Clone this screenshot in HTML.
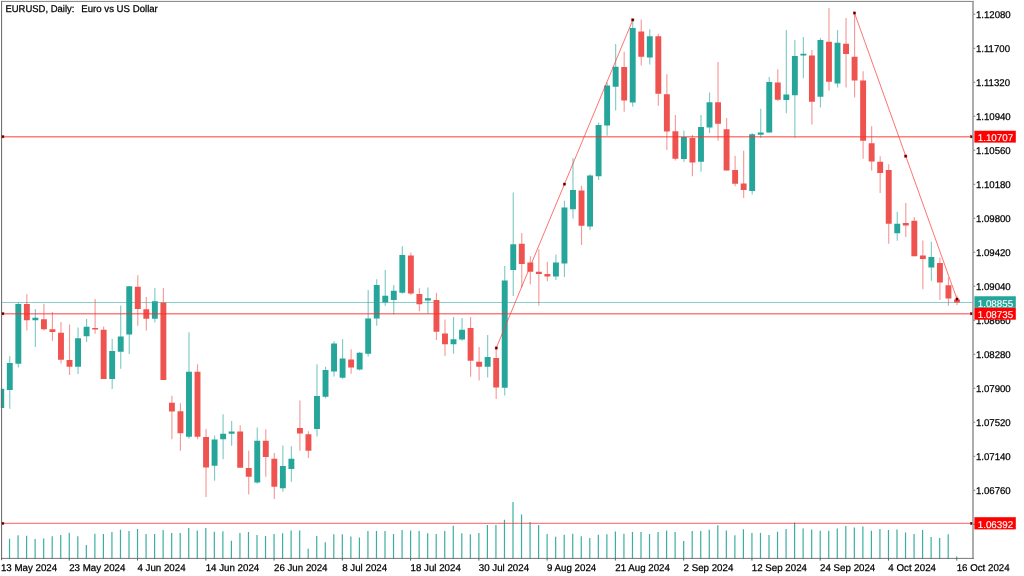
<!DOCTYPE html>
<html lang="en"><head><meta charset="utf-8"><title>EURUSD, Daily</title>
<style>html,body{margin:0;padding:0;background:#fff;width:1024px;height:576px;overflow:hidden}svg text{white-space:pre;text-rendering:geometricPrecision}</style></head>
<body>
<svg width="1024" height="576" viewBox="0 0 1024 576" style="display:block" font-family="'Liberation Sans', sans-serif">
<rect width="1024" height="576" fill="#fff"/>
<line x1="9.53" x2="9.53" y1="538.75" y2="558.4" stroke="#3aafa4" stroke-width="1.2"/>
<line x1="18.07" x2="18.07" y1="535.25" y2="558.4" stroke="#3aafa4" stroke-width="1.2"/>
<line x1="26.60" x2="26.60" y1="535.75" y2="558.4" stroke="#3aafa4" stroke-width="1.2"/>
<line x1="35.13" x2="35.13" y1="539.00" y2="558.4" stroke="#3aafa4" stroke-width="1.2"/>
<line x1="43.67" x2="43.67" y1="538.50" y2="558.4" stroke="#3aafa4" stroke-width="1.2"/>
<line x1="52.20" x2="52.20" y1="536.25" y2="558.4" stroke="#3aafa4" stroke-width="1.2"/>
<line x1="60.73" x2="60.73" y1="535.00" y2="558.4" stroke="#3aafa4" stroke-width="1.2"/>
<line x1="69.27" x2="69.27" y1="532.75" y2="558.4" stroke="#3aafa4" stroke-width="1.2"/>
<line x1="77.80" x2="77.80" y1="536.25" y2="558.4" stroke="#3aafa4" stroke-width="1.2"/>
<line x1="86.33" x2="86.33" y1="545.00" y2="558.4" stroke="#3aafa4" stroke-width="1.2"/>
<line x1="94.87" x2="94.87" y1="533.75" y2="558.4" stroke="#3aafa4" stroke-width="1.2"/>
<line x1="103.40" x2="103.40" y1="534.00" y2="558.4" stroke="#3aafa4" stroke-width="1.2"/>
<line x1="111.93" x2="111.93" y1="532.00" y2="558.4" stroke="#3aafa4" stroke-width="1.2"/>
<line x1="120.47" x2="120.47" y1="529.75" y2="558.4" stroke="#3aafa4" stroke-width="1.2"/>
<line x1="129.00" x2="129.00" y1="531.00" y2="558.4" stroke="#3aafa4" stroke-width="1.2"/>
<line x1="137.53" x2="137.53" y1="529.00" y2="558.4" stroke="#3aafa4" stroke-width="1.2"/>
<line x1="146.07" x2="146.07" y1="534.00" y2="558.4" stroke="#3aafa4" stroke-width="1.2"/>
<line x1="154.60" x2="154.60" y1="534.00" y2="558.4" stroke="#3aafa4" stroke-width="1.2"/>
<line x1="163.13" x2="163.13" y1="530.00" y2="558.4" stroke="#3aafa4" stroke-width="1.2"/>
<line x1="171.67" x2="171.67" y1="533.00" y2="558.4" stroke="#3aafa4" stroke-width="1.2"/>
<line x1="180.20" x2="180.20" y1="533.00" y2="558.4" stroke="#3aafa4" stroke-width="1.2"/>
<line x1="188.73" x2="188.73" y1="528.00" y2="558.4" stroke="#3aafa4" stroke-width="1.2"/>
<line x1="197.27" x2="197.27" y1="530.50" y2="558.4" stroke="#3aafa4" stroke-width="1.2"/>
<line x1="205.80" x2="205.80" y1="528.00" y2="558.4" stroke="#3aafa4" stroke-width="1.2"/>
<line x1="214.33" x2="214.33" y1="531.75" y2="558.4" stroke="#3aafa4" stroke-width="1.2"/>
<line x1="222.87" x2="222.87" y1="531.25" y2="558.4" stroke="#3aafa4" stroke-width="1.2"/>
<line x1="231.40" x2="231.40" y1="540.75" y2="558.4" stroke="#3aafa4" stroke-width="1.2"/>
<line x1="239.93" x2="239.93" y1="533.00" y2="558.4" stroke="#3aafa4" stroke-width="1.2"/>
<line x1="248.47" x2="248.47" y1="532.00" y2="558.4" stroke="#3aafa4" stroke-width="1.2"/>
<line x1="257.00" x2="257.00" y1="535.00" y2="558.4" stroke="#3aafa4" stroke-width="1.2"/>
<line x1="265.53" x2="265.53" y1="536.00" y2="558.4" stroke="#3aafa4" stroke-width="1.2"/>
<line x1="274.07" x2="274.07" y1="534.00" y2="558.4" stroke="#3aafa4" stroke-width="1.2"/>
<line x1="282.60" x2="282.60" y1="533.25" y2="558.4" stroke="#3aafa4" stroke-width="1.2"/>
<line x1="291.13" x2="291.13" y1="530.50" y2="558.4" stroke="#3aafa4" stroke-width="1.2"/>
<line x1="299.67" x2="299.67" y1="530.50" y2="558.4" stroke="#3aafa4" stroke-width="1.2"/>
<line x1="308.20" x2="308.20" y1="548.75" y2="558.4" stroke="#3aafa4" stroke-width="1.2"/>
<line x1="316.73" x2="316.73" y1="536.00" y2="558.4" stroke="#3aafa4" stroke-width="1.2"/>
<line x1="325.27" x2="325.27" y1="542.25" y2="558.4" stroke="#3aafa4" stroke-width="1.2"/>
<line x1="333.80" x2="333.80" y1="534.25" y2="558.4" stroke="#3aafa4" stroke-width="1.2"/>
<line x1="342.33" x2="342.33" y1="534.25" y2="558.4" stroke="#3aafa4" stroke-width="1.2"/>
<line x1="350.87" x2="350.87" y1="536.50" y2="558.4" stroke="#3aafa4" stroke-width="1.2"/>
<line x1="359.40" x2="359.40" y1="537.50" y2="558.4" stroke="#3aafa4" stroke-width="1.2"/>
<line x1="367.93" x2="367.93" y1="531.00" y2="558.4" stroke="#3aafa4" stroke-width="1.2"/>
<line x1="376.47" x2="376.47" y1="531.00" y2="558.4" stroke="#3aafa4" stroke-width="1.2"/>
<line x1="385.00" x2="385.00" y1="531.00" y2="558.4" stroke="#3aafa4" stroke-width="1.2"/>
<line x1="393.53" x2="393.53" y1="534.00" y2="558.4" stroke="#3aafa4" stroke-width="1.2"/>
<line x1="402.07" x2="402.07" y1="530.00" y2="558.4" stroke="#3aafa4" stroke-width="1.2"/>
<line x1="410.60" x2="410.60" y1="530.50" y2="558.4" stroke="#3aafa4" stroke-width="1.2"/>
<line x1="419.13" x2="419.13" y1="531.00" y2="558.4" stroke="#3aafa4" stroke-width="1.2"/>
<line x1="427.67" x2="427.67" y1="533.25" y2="558.4" stroke="#3aafa4" stroke-width="1.2"/>
<line x1="436.20" x2="436.20" y1="534.00" y2="558.4" stroke="#3aafa4" stroke-width="1.2"/>
<line x1="444.73" x2="444.73" y1="531.00" y2="558.4" stroke="#3aafa4" stroke-width="1.2"/>
<line x1="453.27" x2="453.27" y1="525.75" y2="558.4" stroke="#3aafa4" stroke-width="1.2"/>
<line x1="461.80" x2="461.80" y1="533.25" y2="558.4" stroke="#3aafa4" stroke-width="1.2"/>
<line x1="470.33" x2="470.33" y1="534.25" y2="558.4" stroke="#3aafa4" stroke-width="1.2"/>
<line x1="478.87" x2="478.87" y1="533.00" y2="558.4" stroke="#3aafa4" stroke-width="1.2"/>
<line x1="487.40" x2="487.40" y1="525.00" y2="558.4" stroke="#3aafa4" stroke-width="1.2"/>
<line x1="495.93" x2="495.93" y1="525.00" y2="558.4" stroke="#3aafa4" stroke-width="1.2"/>
<line x1="504.47" x2="504.47" y1="519.75" y2="558.4" stroke="#3aafa4" stroke-width="1.2"/>
<line x1="513.00" x2="513.00" y1="502.00" y2="558.4" stroke="#3aafa4" stroke-width="1.2"/>
<line x1="521.53" x2="521.53" y1="514.50" y2="558.4" stroke="#3aafa4" stroke-width="1.2"/>
<line x1="530.07" x2="530.07" y1="522.00" y2="558.4" stroke="#3aafa4" stroke-width="1.2"/>
<line x1="538.60" x2="538.60" y1="525.00" y2="558.4" stroke="#3aafa4" stroke-width="1.2"/>
<line x1="547.13" x2="547.13" y1="534.00" y2="558.4" stroke="#3aafa4" stroke-width="1.2"/>
<line x1="555.67" x2="555.67" y1="536.75" y2="558.4" stroke="#3aafa4" stroke-width="1.2"/>
<line x1="564.20" x2="564.20" y1="534.75" y2="558.4" stroke="#3aafa4" stroke-width="1.2"/>
<line x1="572.73" x2="572.73" y1="533.75" y2="558.4" stroke="#3aafa4" stroke-width="1.2"/>
<line x1="581.27" x2="581.27" y1="536.25" y2="558.4" stroke="#3aafa4" stroke-width="1.2"/>
<line x1="589.80" x2="589.80" y1="538.00" y2="558.4" stroke="#3aafa4" stroke-width="1.2"/>
<line x1="598.33" x2="598.33" y1="534.75" y2="558.4" stroke="#3aafa4" stroke-width="1.2"/>
<line x1="606.87" x2="606.87" y1="534.25" y2="558.4" stroke="#3aafa4" stroke-width="1.2"/>
<line x1="615.40" x2="615.40" y1="531.50" y2="558.4" stroke="#3aafa4" stroke-width="1.2"/>
<line x1="623.93" x2="623.93" y1="533.75" y2="558.4" stroke="#3aafa4" stroke-width="1.2"/>
<line x1="632.47" x2="632.47" y1="532.00" y2="558.4" stroke="#3aafa4" stroke-width="1.2"/>
<line x1="641.00" x2="641.00" y1="532.00" y2="558.4" stroke="#3aafa4" stroke-width="1.2"/>
<line x1="649.53" x2="649.53" y1="534.00" y2="558.4" stroke="#3aafa4" stroke-width="1.2"/>
<line x1="658.07" x2="658.07" y1="532.00" y2="558.4" stroke="#3aafa4" stroke-width="1.2"/>
<line x1="666.60" x2="666.60" y1="530.50" y2="558.4" stroke="#3aafa4" stroke-width="1.2"/>
<line x1="675.13" x2="675.13" y1="532.00" y2="558.4" stroke="#3aafa4" stroke-width="1.2"/>
<line x1="683.67" x2="683.67" y1="541.00" y2="558.4" stroke="#3aafa4" stroke-width="1.2"/>
<line x1="692.20" x2="692.20" y1="531.00" y2="558.4" stroke="#3aafa4" stroke-width="1.2"/>
<line x1="700.73" x2="700.73" y1="531.00" y2="558.4" stroke="#3aafa4" stroke-width="1.2"/>
<line x1="709.27" x2="709.27" y1="529.75" y2="558.4" stroke="#3aafa4" stroke-width="1.2"/>
<line x1="717.80" x2="717.80" y1="525.25" y2="558.4" stroke="#3aafa4" stroke-width="1.2"/>
<line x1="726.33" x2="726.33" y1="530.50" y2="558.4" stroke="#3aafa4" stroke-width="1.2"/>
<line x1="734.87" x2="734.87" y1="535.25" y2="558.4" stroke="#3aafa4" stroke-width="1.2"/>
<line x1="743.40" x2="743.40" y1="529.25" y2="558.4" stroke="#3aafa4" stroke-width="1.2"/>
<line x1="751.93" x2="751.93" y1="533.00" y2="558.4" stroke="#3aafa4" stroke-width="1.2"/>
<line x1="760.47" x2="760.47" y1="532.90" y2="558.4" stroke="#3aafa4" stroke-width="1.2"/>
<line x1="769.00" x2="769.00" y1="535.00" y2="558.4" stroke="#3aafa4" stroke-width="1.2"/>
<line x1="777.53" x2="777.53" y1="531.75" y2="558.4" stroke="#3aafa4" stroke-width="1.2"/>
<line x1="786.07" x2="786.07" y1="529.00" y2="558.4" stroke="#3aafa4" stroke-width="1.2"/>
<line x1="794.60" x2="794.60" y1="522.50" y2="558.4" stroke="#3aafa4" stroke-width="1.2"/>
<line x1="803.13" x2="803.13" y1="528.50" y2="558.4" stroke="#3aafa4" stroke-width="1.2"/>
<line x1="811.67" x2="811.67" y1="529.50" y2="558.4" stroke="#3aafa4" stroke-width="1.2"/>
<line x1="820.20" x2="820.20" y1="530.75" y2="558.4" stroke="#3aafa4" stroke-width="1.2"/>
<line x1="828.73" x2="828.73" y1="530.75" y2="558.4" stroke="#3aafa4" stroke-width="1.2"/>
<line x1="837.27" x2="837.27" y1="528.50" y2="558.4" stroke="#3aafa4" stroke-width="1.2"/>
<line x1="845.80" x2="845.80" y1="526.00" y2="558.4" stroke="#3aafa4" stroke-width="1.2"/>
<line x1="854.33" x2="854.33" y1="527.50" y2="558.4" stroke="#3aafa4" stroke-width="1.2"/>
<line x1="862.87" x2="862.87" y1="526.50" y2="558.4" stroke="#3aafa4" stroke-width="1.2"/>
<line x1="871.40" x2="871.40" y1="530.75" y2="558.4" stroke="#3aafa4" stroke-width="1.2"/>
<line x1="879.93" x2="879.93" y1="529.00" y2="558.4" stroke="#3aafa4" stroke-width="1.2"/>
<line x1="888.47" x2="888.47" y1="530.00" y2="558.4" stroke="#3aafa4" stroke-width="1.2"/>
<line x1="897.00" x2="897.00" y1="529.50" y2="558.4" stroke="#3aafa4" stroke-width="1.2"/>
<line x1="905.53" x2="905.53" y1="532.50" y2="558.4" stroke="#3aafa4" stroke-width="1.2"/>
<line x1="914.07" x2="914.07" y1="534.00" y2="558.4" stroke="#3aafa4" stroke-width="1.2"/>
<line x1="922.60" x2="922.60" y1="530.00" y2="558.4" stroke="#3aafa4" stroke-width="1.2"/>
<line x1="931.13" x2="931.13" y1="537.00" y2="558.4" stroke="#3aafa4" stroke-width="1.2"/>
<line x1="939.67" x2="939.67" y1="538.00" y2="558.4" stroke="#3aafa4" stroke-width="1.2"/>
<line x1="948.20" x2="948.20" y1="534.25" y2="558.4" stroke="#3aafa4" stroke-width="1.2"/>
<line x1="956.73" x2="956.73" y1="556.50" y2="558.4" stroke="#3aafa4" stroke-width="1.2"/>
<line x1="2" x2="972.5" y1="302.50" y2="302.50" stroke="#8acec7" stroke-width="1.0" opacity="1"/>
<line x1="1.25" x2="1.25" y1="388.75" y2="408.00" stroke="#26a69a" stroke-width="1.15" opacity="0.58"/>
<rect x="1.60" y="388.75" width="2.60" height="19.25" fill="#26a69a"/>
<line x1="9.78" x2="9.78" y1="356.25" y2="408.75" stroke="#26a69a" stroke-width="1.15" opacity="0.58"/>
<rect x="6.83" y="363.00" width="5.90" height="27.00" fill="#26a69a"/>
<line x1="18.32" x2="18.32" y1="302.50" y2="367.50" stroke="#26a69a" stroke-width="1.15" opacity="0.58"/>
<rect x="15.37" y="304.00" width="5.90" height="59.75" fill="#26a69a"/>
<line x1="26.85" x2="26.85" y1="294.25" y2="330.50" stroke="#ef5350" stroke-width="1.15" opacity="0.58"/>
<rect x="23.90" y="304.00" width="5.90" height="16.25" fill="#ef5350"/>
<line x1="35.38" x2="35.38" y1="309.00" y2="347.00" stroke="#26a69a" stroke-width="1.15" opacity="0.58"/>
<rect x="32.43" y="317.75" width="5.90" height="2.50" fill="#26a69a"/>
<line x1="43.92" x2="43.92" y1="303.75" y2="330.50" stroke="#ef5350" stroke-width="1.15" opacity="0.58"/>
<rect x="40.97" y="319.25" width="5.90" height="10.00" fill="#ef5350"/>
<line x1="52.45" x2="52.45" y1="312.00" y2="340.75" stroke="#ef5350" stroke-width="1.15" opacity="0.58"/>
<rect x="49.50" y="329.25" width="5.90" height="2.75" fill="#ef5350"/>
<line x1="60.98" x2="60.98" y1="322.00" y2="363.50" stroke="#ef5350" stroke-width="1.15" opacity="0.58"/>
<rect x="58.03" y="332.75" width="5.90" height="27.00" fill="#ef5350"/>
<line x1="69.52" x2="69.52" y1="324.50" y2="375.00" stroke="#ef5350" stroke-width="1.15" opacity="0.58"/>
<rect x="66.57" y="360.00" width="5.90" height="6.75" fill="#ef5350"/>
<line x1="78.05" x2="78.05" y1="327.50" y2="374.00" stroke="#26a69a" stroke-width="1.15" opacity="0.58"/>
<rect x="75.10" y="338.25" width="5.90" height="28.50" fill="#26a69a"/>
<line x1="86.58" x2="86.58" y1="319.00" y2="342.00" stroke="#26a69a" stroke-width="1.15" opacity="0.58"/>
<rect x="83.63" y="326.75" width="5.90" height="9.50" fill="#26a69a"/>
<line x1="95.12" x2="95.12" y1="299.00" y2="333.75" stroke="#ef5350" stroke-width="1.15" opacity="0.58"/>
<rect x="92.17" y="328.00" width="5.90" height="1.50" fill="#ef5350"/>
<line x1="103.65" x2="103.65" y1="326.50" y2="379.00" stroke="#ef5350" stroke-width="1.15" opacity="0.58"/>
<rect x="100.70" y="329.75" width="5.90" height="49.25" fill="#ef5350"/>
<line x1="112.18" x2="112.18" y1="339.00" y2="389.00" stroke="#26a69a" stroke-width="1.15" opacity="0.58"/>
<rect x="109.23" y="351.00" width="5.90" height="28.00" fill="#26a69a"/>
<line x1="120.72" x2="120.72" y1="305.50" y2="368.75" stroke="#26a69a" stroke-width="1.15" opacity="0.58"/>
<rect x="117.77" y="336.50" width="5.90" height="15.25" fill="#26a69a"/>
<line x1="129.25" x2="129.25" y1="286.25" y2="354.00" stroke="#26a69a" stroke-width="1.15" opacity="0.58"/>
<rect x="126.30" y="286.25" width="5.90" height="48.25" fill="#26a69a"/>
<line x1="137.78" x2="137.78" y1="275.25" y2="325.75" stroke="#ef5350" stroke-width="1.15" opacity="0.58"/>
<rect x="134.83" y="286.75" width="5.90" height="22.25" fill="#ef5350"/>
<line x1="146.32" x2="146.32" y1="297.00" y2="330.50" stroke="#ef5350" stroke-width="1.15" opacity="0.58"/>
<rect x="143.37" y="309.25" width="5.90" height="9.50" fill="#ef5350"/>
<line x1="154.85" x2="154.85" y1="288.00" y2="322.50" stroke="#26a69a" stroke-width="1.15" opacity="0.58"/>
<rect x="151.90" y="301.25" width="5.90" height="17.50" fill="#26a69a"/>
<line x1="163.38" x2="163.38" y1="288.00" y2="380.00" stroke="#ef5350" stroke-width="1.15" opacity="0.58"/>
<rect x="160.43" y="302.50" width="5.90" height="77.50" fill="#ef5350"/>
<line x1="171.92" x2="171.92" y1="395.75" y2="439.25" stroke="#ef5350" stroke-width="1.15" opacity="0.58"/>
<rect x="168.97" y="402.75" width="5.90" height="8.75" fill="#ef5350"/>
<line x1="180.45" x2="180.45" y1="403.25" y2="450.75" stroke="#ef5350" stroke-width="1.15" opacity="0.58"/>
<rect x="177.50" y="411.25" width="5.90" height="22.00" fill="#ef5350"/>
<line x1="188.98" x2="188.98" y1="332.25" y2="438.75" stroke="#26a69a" stroke-width="1.15" opacity="0.58"/>
<rect x="186.03" y="371.75" width="5.90" height="65.00" fill="#26a69a"/>
<line x1="197.52" x2="197.52" y1="364.25" y2="439.25" stroke="#ef5350" stroke-width="1.15" opacity="0.58"/>
<rect x="194.57" y="371.75" width="5.90" height="65.00" fill="#ef5350"/>
<line x1="206.05" x2="206.05" y1="429.00" y2="497.00" stroke="#ef5350" stroke-width="1.15" opacity="0.58"/>
<rect x="203.10" y="437.00" width="5.90" height="30.50" fill="#ef5350"/>
<line x1="214.58" x2="214.58" y1="435.50" y2="480.75" stroke="#26a69a" stroke-width="1.15" opacity="0.58"/>
<rect x="211.63" y="439.50" width="5.90" height="26.25" fill="#26a69a"/>
<line x1="223.12" x2="223.12" y1="414.25" y2="459.25" stroke="#26a69a" stroke-width="1.15" opacity="0.58"/>
<rect x="220.17" y="433.75" width="5.90" height="5.50" fill="#26a69a"/>
<line x1="231.65" x2="231.65" y1="421.00" y2="445.75" stroke="#26a69a" stroke-width="1.15" opacity="0.58"/>
<rect x="228.70" y="431.50" width="5.90" height="2.25" fill="#26a69a"/>
<line x1="240.18" x2="240.18" y1="425.25" y2="467.75" stroke="#ef5350" stroke-width="1.15" opacity="0.58"/>
<rect x="237.23" y="431.50" width="5.90" height="36.25" fill="#ef5350"/>
<line x1="248.72" x2="248.72" y1="450.75" y2="494.50" stroke="#ef5350" stroke-width="1.15" opacity="0.58"/>
<rect x="245.77" y="468.00" width="5.90" height="8.75" fill="#ef5350"/>
<line x1="257.25" x2="257.25" y1="427.50" y2="483.75" stroke="#26a69a" stroke-width="1.15" opacity="0.58"/>
<rect x="254.30" y="440.75" width="5.90" height="41.75" fill="#26a69a"/>
<line x1="265.78" x2="265.78" y1="429.25" y2="476.75" stroke="#ef5350" stroke-width="1.15" opacity="0.58"/>
<rect x="262.83" y="440.75" width="5.90" height="16.25" fill="#ef5350"/>
<line x1="274.32" x2="274.32" y1="453.00" y2="499.00" stroke="#ef5350" stroke-width="1.15" opacity="0.58"/>
<rect x="271.37" y="458.75" width="5.90" height="28.00" fill="#ef5350"/>
<line x1="282.85" x2="282.85" y1="445.50" y2="491.75" stroke="#26a69a" stroke-width="1.15" opacity="0.58"/>
<rect x="279.90" y="466.00" width="5.90" height="22.25" fill="#26a69a"/>
<line x1="291.38" x2="291.38" y1="446.25" y2="481.75" stroke="#26a69a" stroke-width="1.15" opacity="0.58"/>
<rect x="288.43" y="458.75" width="5.90" height="10.25" fill="#26a69a"/>
<line x1="299.92" x2="299.92" y1="400.50" y2="450.75" stroke="#ef5350" stroke-width="1.15" opacity="0.58"/>
<rect x="296.97" y="428.00" width="5.90" height="5.50" fill="#ef5350"/>
<line x1="308.45" x2="308.45" y1="431.25" y2="458.00" stroke="#ef5350" stroke-width="1.15" opacity="0.58"/>
<rect x="305.50" y="434.25" width="5.90" height="16.50" fill="#ef5350"/>
<line x1="316.98" x2="316.98" y1="364.25" y2="436.50" stroke="#26a69a" stroke-width="1.15" opacity="0.58"/>
<rect x="314.03" y="396.00" width="5.90" height="33.00" fill="#26a69a"/>
<line x1="325.52" x2="325.52" y1="366.75" y2="398.25" stroke="#26a69a" stroke-width="1.15" opacity="0.58"/>
<rect x="322.57" y="370.00" width="5.90" height="26.75" fill="#26a69a"/>
<line x1="334.05" x2="334.05" y1="341.25" y2="376.50" stroke="#26a69a" stroke-width="1.15" opacity="0.58"/>
<rect x="331.10" y="343.50" width="5.90" height="28.00" fill="#26a69a"/>
<line x1="342.58" x2="342.58" y1="339.25" y2="378.75" stroke="#26a69a" stroke-width="1.15" opacity="0.58"/>
<rect x="339.63" y="358.50" width="5.90" height="19.25" fill="#26a69a"/>
<line x1="351.12" x2="351.12" y1="349.25" y2="373.75" stroke="#ef5350" stroke-width="1.15" opacity="0.58"/>
<rect x="348.17" y="359.50" width="5.90" height="8.00" fill="#ef5350"/>
<line x1="359.65" x2="359.65" y1="352.00" y2="370.50" stroke="#26a69a" stroke-width="1.15" opacity="0.58"/>
<rect x="356.70" y="352.75" width="5.90" height="16.75" fill="#26a69a"/>
<line x1="368.18" x2="368.18" y1="290.00" y2="356.50" stroke="#26a69a" stroke-width="1.15" opacity="0.58"/>
<rect x="365.23" y="318.50" width="5.90" height="35.25" fill="#26a69a"/>
<line x1="376.72" x2="376.72" y1="279.25" y2="325.75" stroke="#26a69a" stroke-width="1.15" opacity="0.58"/>
<rect x="373.77" y="285.00" width="5.90" height="33.50" fill="#26a69a"/>
<line x1="385.25" x2="385.25" y1="270.00" y2="305.75" stroke="#26a69a" stroke-width="1.15" opacity="0.58"/>
<rect x="382.30" y="295.75" width="5.90" height="6.75" fill="#26a69a"/>
<line x1="393.78" x2="393.78" y1="285.00" y2="314.50" stroke="#26a69a" stroke-width="1.15" opacity="0.58"/>
<rect x="390.83" y="290.75" width="5.90" height="9.25" fill="#26a69a"/>
<line x1="402.32" x2="402.32" y1="246.25" y2="293.75" stroke="#26a69a" stroke-width="1.15" opacity="0.58"/>
<rect x="399.37" y="255.00" width="5.90" height="37.75" fill="#26a69a"/>
<line x1="410.85" x2="410.85" y1="252.50" y2="295.00" stroke="#ef5350" stroke-width="1.15" opacity="0.58"/>
<rect x="407.90" y="255.50" width="5.90" height="38.00" fill="#ef5350"/>
<line x1="419.38" x2="419.38" y1="288.25" y2="311.25" stroke="#ef5350" stroke-width="1.15" opacity="0.58"/>
<rect x="416.43" y="294.00" width="5.90" height="10.25" fill="#ef5350"/>
<line x1="427.92" x2="427.92" y1="287.50" y2="313.75" stroke="#26a69a" stroke-width="1.15" opacity="0.58"/>
<rect x="424.97" y="298.25" width="5.90" height="2.25" fill="#26a69a"/>
<line x1="436.45" x2="436.45" y1="292.75" y2="340.00" stroke="#ef5350" stroke-width="1.15" opacity="0.58"/>
<rect x="433.50" y="300.00" width="5.90" height="31.75" fill="#ef5350"/>
<line x1="444.98" x2="444.98" y1="319.50" y2="356.00" stroke="#ef5350" stroke-width="1.15" opacity="0.58"/>
<rect x="442.03" y="333.50" width="5.90" height="10.75" fill="#ef5350"/>
<line x1="453.52" x2="453.52" y1="317.00" y2="353.75" stroke="#26a69a" stroke-width="1.15" opacity="0.58"/>
<rect x="450.57" y="339.25" width="5.90" height="5.00" fill="#26a69a"/>
<line x1="462.05" x2="462.05" y1="318.00" y2="340.75" stroke="#26a69a" stroke-width="1.15" opacity="0.58"/>
<rect x="459.10" y="329.75" width="5.90" height="9.75" fill="#26a69a"/>
<line x1="470.58" x2="470.58" y1="317.00" y2="376.75" stroke="#ef5350" stroke-width="1.15" opacity="0.58"/>
<rect x="467.63" y="328.00" width="5.90" height="32.75" fill="#ef5350"/>
<line x1="479.12" x2="479.12" y1="347.00" y2="380.50" stroke="#ef5350" stroke-width="1.15" opacity="0.58"/>
<rect x="476.17" y="361.75" width="5.90" height="5.00" fill="#ef5350"/>
<line x1="487.65" x2="487.65" y1="335.00" y2="377.50" stroke="#26a69a" stroke-width="1.15" opacity="0.58"/>
<rect x="484.70" y="357.00" width="5.90" height="9.75" fill="#26a69a"/>
<line x1="496.18" x2="496.18" y1="348.00" y2="399.00" stroke="#ef5350" stroke-width="1.15" opacity="0.58"/>
<rect x="493.23" y="358.00" width="5.90" height="29.50" fill="#ef5350"/>
<line x1="504.72" x2="504.72" y1="266.00" y2="395.50" stroke="#26a69a" stroke-width="1.15" opacity="0.58"/>
<rect x="501.77" y="280.50" width="5.90" height="107.25" fill="#26a69a"/>
<line x1="513.25" x2="513.25" y1="192.50" y2="296.00" stroke="#26a69a" stroke-width="1.15" opacity="0.58"/>
<rect x="510.30" y="244.25" width="5.90" height="25.75" fill="#26a69a"/>
<line x1="521.78" x2="521.78" y1="233.00" y2="287.25" stroke="#ef5350" stroke-width="1.15" opacity="0.58"/>
<rect x="518.83" y="243.75" width="5.90" height="20.25" fill="#ef5350"/>
<line x1="530.32" x2="530.32" y1="256.25" y2="284.25" stroke="#ef5350" stroke-width="1.15" opacity="0.58"/>
<rect x="527.37" y="262.50" width="5.90" height="9.25" fill="#ef5350"/>
<line x1="538.85" x2="538.85" y1="249.25" y2="305.50" stroke="#ef5350" stroke-width="1.15" opacity="0.58"/>
<rect x="535.90" y="271.75" width="5.90" height="2.25" fill="#ef5350"/>
<line x1="547.38" x2="547.38" y1="261.75" y2="281.25" stroke="#ef5350" stroke-width="1.15" opacity="0.58"/>
<rect x="544.43" y="274.00" width="5.90" height="2.50" fill="#ef5350"/>
<line x1="555.92" x2="555.92" y1="254.50" y2="280.00" stroke="#26a69a" stroke-width="1.15" opacity="0.58"/>
<rect x="552.97" y="262.50" width="5.90" height="14.00" fill="#26a69a"/>
<line x1="564.45" x2="564.45" y1="200.75" y2="277.00" stroke="#26a69a" stroke-width="1.15" opacity="0.58"/>
<rect x="561.50" y="207.50" width="5.90" height="56.00" fill="#26a69a"/>
<line x1="572.98" x2="572.98" y1="158.00" y2="218.50" stroke="#26a69a" stroke-width="1.15" opacity="0.58"/>
<rect x="570.03" y="190.00" width="5.90" height="19.25" fill="#26a69a"/>
<line x1="581.52" x2="581.52" y1="185.75" y2="245.00" stroke="#ef5350" stroke-width="1.15" opacity="0.58"/>
<rect x="578.57" y="190.50" width="5.90" height="35.25" fill="#ef5350"/>
<line x1="590.05" x2="590.05" y1="174.25" y2="230.00" stroke="#26a69a" stroke-width="1.15" opacity="0.58"/>
<rect x="587.10" y="175.50" width="5.90" height="51.00" fill="#26a69a"/>
<line x1="598.58" x2="598.58" y1="122.50" y2="180.00" stroke="#26a69a" stroke-width="1.15" opacity="0.58"/>
<rect x="595.63" y="125.00" width="5.90" height="51.25" fill="#26a69a"/>
<line x1="607.12" x2="607.12" y1="82.50" y2="135.75" stroke="#26a69a" stroke-width="1.15" opacity="0.58"/>
<rect x="604.17" y="85.50" width="5.90" height="40.00" fill="#26a69a"/>
<line x1="615.65" x2="615.65" y1="44.00" y2="110.50" stroke="#26a69a" stroke-width="1.15" opacity="0.58"/>
<rect x="612.70" y="66.75" width="5.90" height="20.00" fill="#26a69a"/>
<line x1="624.18" x2="624.18" y1="51.75" y2="111.75" stroke="#ef5350" stroke-width="1.15" opacity="0.58"/>
<rect x="621.23" y="67.00" width="5.90" height="33.50" fill="#ef5350"/>
<line x1="632.72" x2="632.72" y1="19.50" y2="106.75" stroke="#26a69a" stroke-width="1.15" opacity="0.58"/>
<rect x="629.77" y="28.00" width="5.90" height="74.50" fill="#26a69a"/>
<line x1="641.25" x2="641.25" y1="19.50" y2="65.50" stroke="#ef5350" stroke-width="1.15" opacity="0.58"/>
<rect x="638.30" y="31.50" width="5.90" height="25.25" fill="#ef5350"/>
<line x1="649.78" x2="649.78" y1="29.25" y2="64.50" stroke="#26a69a" stroke-width="1.15" opacity="0.58"/>
<rect x="646.83" y="36.25" width="5.90" height="21.25" fill="#26a69a"/>
<line x1="658.32" x2="658.32" y1="33.75" y2="105.75" stroke="#ef5350" stroke-width="1.15" opacity="0.58"/>
<rect x="655.37" y="36.25" width="5.90" height="57.50" fill="#ef5350"/>
<line x1="666.85" x2="666.85" y1="74.25" y2="150.00" stroke="#ef5350" stroke-width="1.15" opacity="0.58"/>
<rect x="663.90" y="94.25" width="5.90" height="37.25" fill="#ef5350"/>
<line x1="675.38" x2="675.38" y1="115.00" y2="160.50" stroke="#ef5350" stroke-width="1.15" opacity="0.58"/>
<rect x="672.43" y="131.25" width="5.90" height="27.50" fill="#ef5350"/>
<line x1="683.92" x2="683.92" y1="130.50" y2="162.00" stroke="#26a69a" stroke-width="1.15" opacity="0.58"/>
<rect x="680.97" y="137.00" width="5.90" height="22.00" fill="#26a69a"/>
<line x1="692.45" x2="692.45" y1="135.00" y2="176.25" stroke="#ef5350" stroke-width="1.15" opacity="0.58"/>
<rect x="689.50" y="138.00" width="5.90" height="24.50" fill="#ef5350"/>
<line x1="700.98" x2="700.98" y1="115.00" y2="171.75" stroke="#26a69a" stroke-width="1.15" opacity="0.58"/>
<rect x="698.03" y="127.00" width="5.90" height="34.75" fill="#26a69a"/>
<line x1="709.52" x2="709.52" y1="92.50" y2="133.00" stroke="#26a69a" stroke-width="1.15" opacity="0.58"/>
<rect x="706.57" y="102.25" width="5.90" height="25.25" fill="#26a69a"/>
<line x1="718.05" x2="718.05" y1="62.00" y2="140.75" stroke="#ef5350" stroke-width="1.15" opacity="0.58"/>
<rect x="715.10" y="102.25" width="5.90" height="21.50" fill="#ef5350"/>
<line x1="726.58" x2="726.58" y1="118.00" y2="170.50" stroke="#ef5350" stroke-width="1.15" opacity="0.58"/>
<rect x="723.63" y="129.25" width="5.90" height="41.25" fill="#ef5350"/>
<line x1="735.12" x2="735.12" y1="155.75" y2="186.25" stroke="#ef5350" stroke-width="1.15" opacity="0.58"/>
<rect x="732.17" y="170.00" width="5.90" height="13.75" fill="#ef5350"/>
<line x1="743.65" x2="743.65" y1="150.75" y2="198.00" stroke="#ef5350" stroke-width="1.15" opacity="0.58"/>
<rect x="740.70" y="183.50" width="5.90" height="6.50" fill="#ef5350"/>
<line x1="752.18" x2="752.18" y1="133.00" y2="194.50" stroke="#26a69a" stroke-width="1.15" opacity="0.58"/>
<rect x="749.23" y="134.25" width="5.90" height="56.75" fill="#26a69a"/>
<line x1="760.72" x2="760.72" y1="108.75" y2="138.00" stroke="#26a69a" stroke-width="1.15" opacity="0.58"/>
<rect x="757.77" y="132.50" width="5.90" height="2.25" fill="#26a69a"/>
<line x1="769.25" x2="769.25" y1="77.00" y2="132.50" stroke="#26a69a" stroke-width="1.15" opacity="0.58"/>
<rect x="766.30" y="82.00" width="5.90" height="50.50" fill="#26a69a"/>
<line x1="777.78" x2="777.78" y1="69.25" y2="101.00" stroke="#ef5350" stroke-width="1.15" opacity="0.58"/>
<rect x="774.83" y="82.50" width="5.90" height="17.25" fill="#ef5350"/>
<line x1="786.32" x2="786.32" y1="30.00" y2="113.25" stroke="#26a69a" stroke-width="1.15" opacity="0.58"/>
<rect x="783.37" y="94.50" width="5.90" height="5.50" fill="#26a69a"/>
<line x1="794.85" x2="794.85" y1="40.00" y2="138.00" stroke="#26a69a" stroke-width="1.15" opacity="0.58"/>
<rect x="791.90" y="56.00" width="5.90" height="39.25" fill="#26a69a"/>
<line x1="803.38" x2="803.38" y1="37.00" y2="78.25" stroke="#26a69a" stroke-width="1.15" opacity="0.58"/>
<rect x="800.43" y="53.75" width="5.90" height="1.75" fill="#26a69a"/>
<line x1="811.92" x2="811.92" y1="50.00" y2="124.50" stroke="#ef5350" stroke-width="1.15" opacity="0.58"/>
<rect x="808.97" y="55.50" width="5.90" height="46.25" fill="#ef5350"/>
<line x1="820.45" x2="820.45" y1="38.00" y2="107.50" stroke="#26a69a" stroke-width="1.15" opacity="0.58"/>
<rect x="817.50" y="40.00" width="5.90" height="56.75" fill="#26a69a"/>
<line x1="828.98" x2="828.98" y1="8.00" y2="90.75" stroke="#ef5350" stroke-width="1.15" opacity="0.58"/>
<rect x="826.03" y="41.75" width="5.90" height="40.00" fill="#ef5350"/>
<line x1="837.52" x2="837.52" y1="30.00" y2="87.50" stroke="#26a69a" stroke-width="1.15" opacity="0.58"/>
<rect x="834.57" y="42.75" width="5.90" height="40.75" fill="#26a69a"/>
<line x1="846.05" x2="846.05" y1="18.00" y2="87.50" stroke="#ef5350" stroke-width="1.15" opacity="0.58"/>
<rect x="843.10" y="43.75" width="5.90" height="10.25" fill="#ef5350"/>
<line x1="854.58" x2="854.58" y1="13.00" y2="97.50" stroke="#ef5350" stroke-width="1.15" opacity="0.58"/>
<rect x="851.63" y="56.75" width="5.90" height="23.75" fill="#ef5350"/>
<line x1="863.12" x2="863.12" y1="71.25" y2="158.75" stroke="#ef5350" stroke-width="1.15" opacity="0.58"/>
<rect x="860.17" y="80.50" width="5.90" height="60.25" fill="#ef5350"/>
<line x1="871.65" x2="871.65" y1="126.25" y2="170.50" stroke="#ef5350" stroke-width="1.15" opacity="0.58"/>
<rect x="868.70" y="143.25" width="5.90" height="18.25" fill="#ef5350"/>
<line x1="880.18" x2="880.18" y1="156.25" y2="193.00" stroke="#ef5350" stroke-width="1.15" opacity="0.58"/>
<rect x="877.23" y="161.75" width="5.90" height="11.25" fill="#ef5350"/>
<line x1="888.72" x2="888.72" y1="164.25" y2="243.75" stroke="#ef5350" stroke-width="1.15" opacity="0.58"/>
<rect x="885.77" y="170.00" width="5.90" height="53.75" fill="#ef5350"/>
<line x1="897.25" x2="897.25" y1="211.75" y2="240.75" stroke="#26a69a" stroke-width="1.15" opacity="0.58"/>
<rect x="894.30" y="223.75" width="5.90" height="9.50" fill="#26a69a"/>
<line x1="905.78" x2="905.78" y1="203.00" y2="237.00" stroke="#ef5350" stroke-width="1.15" opacity="0.58"/>
<rect x="902.83" y="223.00" width="5.90" height="2.50" fill="#ef5350"/>
<line x1="914.32" x2="914.32" y1="217.00" y2="256.25" stroke="#ef5350" stroke-width="1.15" opacity="0.58"/>
<rect x="911.37" y="220.75" width="5.90" height="35.50" fill="#ef5350"/>
<line x1="922.85" x2="922.85" y1="240.50" y2="289.25" stroke="#ef5350" stroke-width="1.15" opacity="0.58"/>
<rect x="919.90" y="255.50" width="5.90" height="3.50" fill="#ef5350"/>
<line x1="931.38" x2="931.38" y1="241.75" y2="280.75" stroke="#26a69a" stroke-width="1.15" opacity="0.58"/>
<rect x="928.43" y="257.00" width="5.90" height="10.50" fill="#26a69a"/>
<line x1="939.92" x2="939.92" y1="257.50" y2="300.00" stroke="#ef5350" stroke-width="1.15" opacity="0.58"/>
<rect x="936.97" y="263.00" width="5.90" height="19.50" fill="#ef5350"/>
<line x1="948.45" x2="948.45" y1="277.50" y2="305.75" stroke="#ef5350" stroke-width="1.15" opacity="0.58"/>
<rect x="945.50" y="285.25" width="5.90" height="13.25" fill="#ef5350"/>
<line x1="956.98" x2="956.98" y1="295.50" y2="305.00" stroke="#ef5350" stroke-width="1.15" opacity="0.58"/>
<rect x="954.03" y="299.50" width="5.90" height="3.00" fill="#ef5350"/>
<line x1="2" x2="972.5" y1="136.75" y2="136.75" stroke="#ff2a2a" stroke-width="1.3" opacity="0.6"/>
<line x1="2" x2="972.5" y1="313.75" y2="313.75" stroke="#ff2a2a" stroke-width="1.3" opacity="0.6"/>
<line x1="2" x2="972.5" y1="523.40" y2="523.40" stroke="#ff2a2a" stroke-width="1.3" opacity="0.6"/>
<line x1="496.25" y1="348" x2="632.8" y2="19.9" stroke="#ff3b3b" stroke-width="0.72"/>
<line x1="854.5" y1="13" x2="957" y2="299.1" stroke="#ff3b3b" stroke-width="0.72"/>
<rect x="495.15" y="346.90" width="2.2" height="2.2" fill="#200" stroke="#c00" stroke-width="0.5"/>
<rect x="563.40" y="183.00" width="2.2" height="2.2" fill="#200" stroke="#c00" stroke-width="0.5"/>
<rect x="631.70" y="18.80" width="2.2" height="2.2" fill="#200" stroke="#c00" stroke-width="0.5"/>
<rect x="853.40" y="11.90" width="2.2" height="2.2" fill="#200" stroke="#c00" stroke-width="0.5"/>
<rect x="904.65" y="155.00" width="2.2" height="2.2" fill="#200" stroke="#c00" stroke-width="0.5"/>
<rect x="955.90" y="298.00" width="2.2" height="2.2" fill="#200" stroke="#c00" stroke-width="0.5"/>
<rect x="1.70" y="135.65" width="2.2" height="2.2" fill="#200" stroke="#c00" stroke-width="0.5"/>
<rect x="970.50" y="135.65" width="2.2" height="2.2" fill="#200" stroke="#c00" stroke-width="0.5"/>
<rect x="1.70" y="312.65" width="2.2" height="2.2" fill="#200" stroke="#c00" stroke-width="0.5"/>
<rect x="970.50" y="312.65" width="2.2" height="2.2" fill="#200" stroke="#c00" stroke-width="0.5"/>
<rect x="1.70" y="522.30" width="2.2" height="2.2" fill="#200" stroke="#c00" stroke-width="0.5"/>
<rect x="970.50" y="522.30" width="2.2" height="2.2" fill="#200" stroke="#c00" stroke-width="0.5"/>
<line x1="1.6" x2="1.6" y1="0.9" y2="560.2" stroke="#666" stroke-width="1"/>
<line x1="1.1" x2="973.8" y1="1.4" y2="1.4" stroke="#808080" stroke-width="1"/>
<line x1="973" x2="973" y1="0.9" y2="558.8" stroke="#999" stroke-width="1.6"/>
<line x1="1.1" x2="973.8" y1="558.4" y2="558.4" stroke="#555" stroke-width="0.8"/>
<text transform="translate(0.90,571.10) scale(0.99283,1)" font-size="9.8" fill="#000" stroke="#000" stroke-width="0.25" xml:space="preserve">13 May 2024</text>
<line x1="69.27" x2="69.27" y1="558.4" y2="560.6" stroke="#555" stroke-width="0.9"/>
<text transform="translate(69.17,571.10) scale(0.99283,1)" font-size="9.8" fill="#000" stroke="#000" stroke-width="0.25" xml:space="preserve">23 May 2024</text>
<line x1="137.53" x2="137.53" y1="558.4" y2="560.6" stroke="#555" stroke-width="0.9"/>
<text transform="translate(137.43,571.10) scale(0.99283,1)" font-size="9.8" fill="#000" stroke="#000" stroke-width="0.25" xml:space="preserve">4 Jun 2024</text>
<line x1="205.80" x2="205.80" y1="558.4" y2="560.6" stroke="#555" stroke-width="0.9"/>
<text transform="translate(205.70,571.10) scale(0.99283,1)" font-size="9.8" fill="#000" stroke="#000" stroke-width="0.25" xml:space="preserve">14 Jun 2024</text>
<line x1="274.07" x2="274.07" y1="558.4" y2="560.6" stroke="#555" stroke-width="0.9"/>
<text transform="translate(273.97,571.10) scale(0.99283,1)" font-size="9.8" fill="#000" stroke="#000" stroke-width="0.25" xml:space="preserve">26 Jun 2024</text>
<line x1="342.33" x2="342.33" y1="558.4" y2="560.6" stroke="#555" stroke-width="0.9"/>
<text transform="translate(342.23,571.10) scale(0.99283,1)" font-size="9.8" fill="#000" stroke="#000" stroke-width="0.25" xml:space="preserve">8 Jul 2024</text>
<line x1="410.60" x2="410.60" y1="558.4" y2="560.6" stroke="#555" stroke-width="0.9"/>
<text transform="translate(410.50,571.10) scale(0.99283,1)" font-size="9.8" fill="#000" stroke="#000" stroke-width="0.25" xml:space="preserve">18 Jul 2024</text>
<line x1="478.87" x2="478.87" y1="558.4" y2="560.6" stroke="#555" stroke-width="0.9"/>
<text transform="translate(478.77,571.10) scale(0.99283,1)" font-size="9.8" fill="#000" stroke="#000" stroke-width="0.25" xml:space="preserve">30 Jul 2024</text>
<line x1="547.13" x2="547.13" y1="558.4" y2="560.6" stroke="#555" stroke-width="0.9"/>
<text transform="translate(547.03,571.10) scale(0.99283,1)" font-size="9.8" fill="#000" stroke="#000" stroke-width="0.25" xml:space="preserve">9 Aug 2024</text>
<line x1="615.40" x2="615.40" y1="558.4" y2="560.6" stroke="#555" stroke-width="0.9"/>
<text transform="translate(615.30,571.10) scale(0.99283,1)" font-size="9.8" fill="#000" stroke="#000" stroke-width="0.25" xml:space="preserve">21 Aug 2024</text>
<line x1="683.67" x2="683.67" y1="558.4" y2="560.6" stroke="#555" stroke-width="0.9"/>
<text transform="translate(683.57,571.10) scale(0.99283,1)" font-size="9.8" fill="#000" stroke="#000" stroke-width="0.25" xml:space="preserve">2 Sep 2024</text>
<line x1="751.93" x2="751.93" y1="558.4" y2="560.6" stroke="#555" stroke-width="0.9"/>
<text transform="translate(751.83,571.10) scale(0.99283,1)" font-size="9.8" fill="#000" stroke="#000" stroke-width="0.25" xml:space="preserve">12 Sep 2024</text>
<line x1="820.20" x2="820.20" y1="558.4" y2="560.6" stroke="#555" stroke-width="0.9"/>
<text transform="translate(820.10,571.10) scale(0.99283,1)" font-size="9.8" fill="#000" stroke="#000" stroke-width="0.25" xml:space="preserve">24 Sep 2024</text>
<line x1="888.47" x2="888.47" y1="558.4" y2="560.6" stroke="#555" stroke-width="0.9"/>
<text transform="translate(888.37,571.10) scale(0.99283,1)" font-size="9.8" fill="#000" stroke="#000" stroke-width="0.25" xml:space="preserve">4 Oct 2024</text>
<line x1="956.73" x2="956.73" y1="558.4" y2="560.6" stroke="#555" stroke-width="0.9"/>
<text transform="translate(956.63,571.10) scale(0.99283,1)" font-size="9.8" fill="#000" stroke="#000" stroke-width="0.25" xml:space="preserve">16 Oct 2024</text>
<line x1="973.5" x2="975.2" y1="14.25" y2="14.25" stroke="#444" stroke-width="0.7"/>
<text transform="translate(975.90,18.05) scale(0.983,1)" font-size="9.8" fill="#000" stroke="#000" stroke-width="0.25" xml:space="preserve">1.12080</text>
<line x1="973.5" x2="975.2" y1="48.25" y2="48.25" stroke="#444" stroke-width="0.7"/>
<text transform="translate(975.90,52.05) scale(0.983,1)" font-size="9.8" fill="#000" stroke="#000" stroke-width="0.25" xml:space="preserve">1.11700</text>
<line x1="973.5" x2="975.2" y1="82.26" y2="82.26" stroke="#444" stroke-width="0.7"/>
<text transform="translate(975.90,86.06) scale(0.983,1)" font-size="9.8" fill="#000" stroke="#000" stroke-width="0.25" xml:space="preserve">1.11320</text>
<line x1="973.5" x2="975.2" y1="116.26" y2="116.26" stroke="#444" stroke-width="0.7"/>
<text transform="translate(975.90,120.06) scale(0.983,1)" font-size="9.8" fill="#000" stroke="#000" stroke-width="0.25" xml:space="preserve">1.10940</text>
<line x1="973.5" x2="975.2" y1="150.26" y2="150.26" stroke="#444" stroke-width="0.7"/>
<text transform="translate(975.90,154.06) scale(0.983,1)" font-size="9.8" fill="#000" stroke="#000" stroke-width="0.25" xml:space="preserve">1.10560</text>
<line x1="973.5" x2="975.2" y1="184.27" y2="184.27" stroke="#444" stroke-width="0.7"/>
<text transform="translate(975.90,188.07) scale(0.983,1)" font-size="9.8" fill="#000" stroke="#000" stroke-width="0.25" xml:space="preserve">1.10180</text>
<line x1="973.5" x2="975.2" y1="218.27" y2="218.27" stroke="#444" stroke-width="0.7"/>
<text transform="translate(975.90,222.07) scale(0.983,1)" font-size="9.8" fill="#000" stroke="#000" stroke-width="0.25" xml:space="preserve">1.09800</text>
<line x1="973.5" x2="975.2" y1="252.27" y2="252.27" stroke="#444" stroke-width="0.7"/>
<text transform="translate(975.90,256.07) scale(0.983,1)" font-size="9.8" fill="#000" stroke="#000" stroke-width="0.25" xml:space="preserve">1.09420</text>
<line x1="973.5" x2="975.2" y1="286.28" y2="286.28" stroke="#444" stroke-width="0.7"/>
<text transform="translate(975.90,290.08) scale(0.983,1)" font-size="9.8" fill="#000" stroke="#000" stroke-width="0.25" xml:space="preserve">1.09040</text>
<line x1="973.5" x2="975.2" y1="320.28" y2="320.28" stroke="#444" stroke-width="0.7"/>
<text transform="translate(975.90,324.08) scale(0.983,1)" font-size="9.8" fill="#000" stroke="#000" stroke-width="0.25" xml:space="preserve">1.08660</text>
<line x1="973.5" x2="975.2" y1="354.29" y2="354.29" stroke="#444" stroke-width="0.7"/>
<text transform="translate(975.90,358.09) scale(0.983,1)" font-size="9.8" fill="#000" stroke="#000" stroke-width="0.25" xml:space="preserve">1.08280</text>
<line x1="973.5" x2="975.2" y1="388.29" y2="388.29" stroke="#444" stroke-width="0.7"/>
<text transform="translate(975.90,392.09) scale(0.983,1)" font-size="9.8" fill="#000" stroke="#000" stroke-width="0.25" xml:space="preserve">1.07900</text>
<line x1="973.5" x2="975.2" y1="422.29" y2="422.29" stroke="#444" stroke-width="0.7"/>
<text transform="translate(975.90,426.09) scale(0.983,1)" font-size="9.8" fill="#000" stroke="#000" stroke-width="0.25" xml:space="preserve">1.07520</text>
<line x1="973.5" x2="975.2" y1="456.30" y2="456.30" stroke="#444" stroke-width="0.7"/>
<text transform="translate(975.90,460.10) scale(0.983,1)" font-size="9.8" fill="#000" stroke="#000" stroke-width="0.25" xml:space="preserve">1.07140</text>
<line x1="973.5" x2="975.2" y1="490.30" y2="490.30" stroke="#444" stroke-width="0.7"/>
<text transform="translate(975.90,494.10) scale(0.983,1)" font-size="9.8" fill="#000" stroke="#000" stroke-width="0.25" xml:space="preserve">1.06760</text>
<line x1="973.5" x2="975.2" y1="524.30" y2="524.30" stroke="#444" stroke-width="0.7"/>
<rect x="974.4" y="130.75" width="41.4" height="11.85" fill="#ff0000"/>
<text transform="translate(977.70,140.90) scale(1.00266,1)" font-size="9.8" fill="#fff" stroke="#fff" stroke-width="0.1" xml:space="preserve">1.10707</text>
<rect x="974.4" y="296.25" width="41.4" height="11.55" fill="#26a69a"/>
<text transform="translate(977.70,306.75) scale(1.00266,1)" font-size="9.8" fill="#fff" stroke="#fff" stroke-width="0.1" xml:space="preserve">1.08855</text>
<rect x="974.4" y="307.80" width="41.4" height="11.90" fill="#ff0000"/>
<text transform="translate(977.70,318.00) scale(1.00266,1)" font-size="9.8" fill="#fff" stroke="#fff" stroke-width="0.1" xml:space="preserve">1.08735</text>
<rect x="974.4" y="517.20" width="41.4" height="12.20" fill="#ff0000"/>
<text transform="translate(977.70,527.60) scale(1.00266,1)" font-size="9.8" fill="#fff" stroke="#fff" stroke-width="0.1" xml:space="preserve">1.06392</text>
<text transform="translate(5.40,12.10) scale(0.968255,1)" font-size="9.8" fill="#000" stroke="#000" stroke-width="0.25" xml:space="preserve">EURUSD, Daily:</text>
<text transform="translate(81.30,12.10) scale(0.983,1)" font-size="9.8" fill="#000" stroke="#000" stroke-width="0.25" xml:space="preserve">Euro vs US Dollar</text>
</svg>
</body></html>
